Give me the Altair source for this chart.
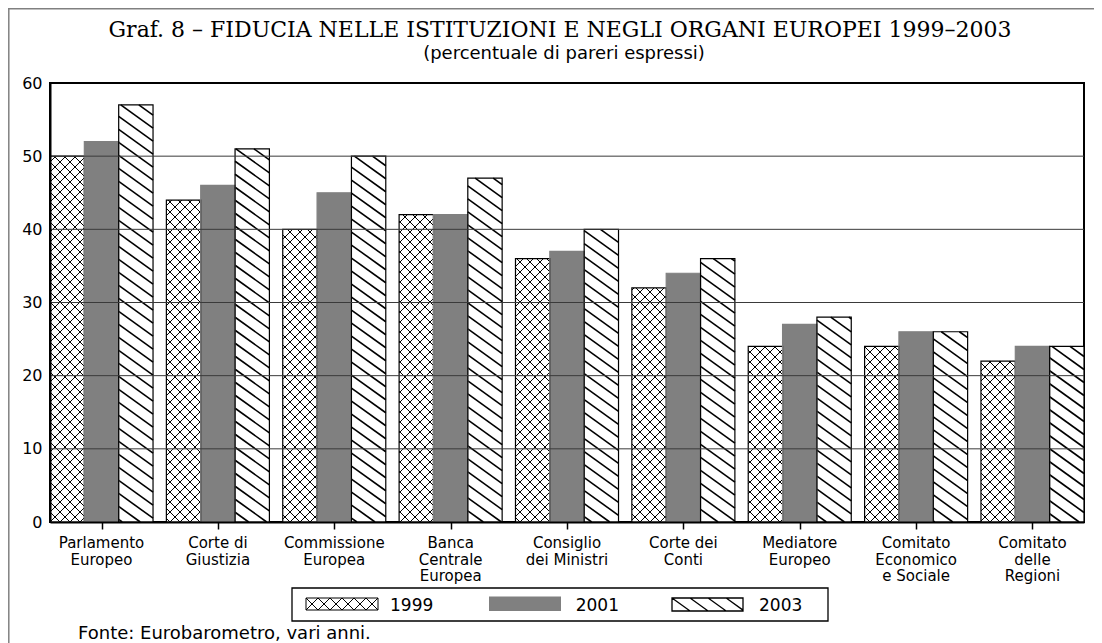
import math
import altair as alt
import pandas as pd

# ---------------- data ----------------
categories = [
    "Parlamento\nEuropeo",
    "Corte di\nGiustizia",
    "Commissione\nEuropea",
    "Banca\nCentrale\nEuropea",
    "Consiglio\ndei Ministri",
    "Corte dei\nConti",
    "Mediatore\nEuropeo",
    "Comitato\nEconomico\ne Sociale",
    "Comitato\ndelle\nRegioni",
]
years = ["1999", "2001", "2003"]
v1999 = [50, 44, 40, 42, 36, 32, 24, 24, 22]
v2001 = [52, 46, 45, 42, 37, 34, 27, 26, 24]
v2003 = [57, 51, 50, 47, 40, 36, 28, 26, 24]
y_ticks = [0, 10, 20, 30, 40, 50, 60]
grid_values = [10, 20, 30, 40, 50]
title_text = "Graf. 8 \u2013 FIDUCIA NELLE ISTITUZIONI E NEGLI ORGANI EUROPEI 1999\u20132003"
subtitle_text = "(percentuale di pareri espressi)"
source_text = "Fonte: Eurobarometro, vari anni."

# ---------------- geometry ----------------
W, H = 1034, 439
YMAX = 60
HALF = 0.4427
XMIN, XMAX = -HALF, len(categories) - 1 + HALF
KX = W / (XMAX - XMIN)
KY = H / YMAX
BW = 2 * HALF / 3
FONT = "DejaVu Sans"
SERIF = "DejaVu Serif"
GRAY = "#808080"


def clip_segments(x0, x1, y0, y1, a, step, phase=0.0):
    """Lines y = a*x + c (c = phase + k*step) clipped to the rectangle."""
    cs = [py - a * px for px in (x0, x1) for py in (y0, y1)]
    kmin = math.floor((min(cs) - phase) / step) - 1
    kmax = math.ceil((max(cs) - phase) / step) + 1
    segs = []
    for k in range(kmin, kmax + 1):
        c = phase + k * step
        xa = (y0 - c) / a
        xb = (y1 - c) / a
        lo = max(x0, min(xa, xb))
        hi = min(x1, max(xa, xb))
        if hi - lo > 0.4:
            segs.append((lo, a * lo + c, hi, a * hi + c))
    return segs


values_by_year = {"1999": v1999, "2001": v2001, "2003": v2003}
fill_by_year = {"1999": "white", "2001": GRAY, "2003": "white"}
stroke_by_year = {"1999": "black", "2001": GRAY, "2003": "black"}

bar_rows, hatch_rows = [], []
for i, cat in enumerate(categories):
    for j, yr in enumerate(years):
        bx0 = i - HALF + j * BW
        bx1 = bx0 + BW
        val = values_by_year[yr][i]
        bar_rows.append(dict(cat=cat, year=yr, value=val, bx0=bx0, bx1=bx1,
                             fill=fill_by_year[yr], stroke=stroke_by_year[yr]))
        px0, px1 = (bx0 - XMIN) * KX, (bx1 - XMIN) * KX
        py1 = val * KY
        specs = []
        if yr == "1999":
            specs = [(1.0, 10.0, 1.0), (-1.0, 10.0, 1.0)]
        elif yr == "2003":
            specs = [(-0.72, 13.0, 1.6)]
        for a, step, sw in specs:
            for (sx0, sy0, sx1, sy1) in clip_segments(px0, px1, 0.0, py1, a, step):
                hatch_rows.append(dict(hx0=XMIN + sx0 / KX, hy0=sy0 / KY,
                                       hx1=XMIN + sx1 / KX, hy1=sy1 / KY, w=sw))

bars = pd.DataFrame(bar_rows)
hatch = pd.DataFrame(hatch_rows)
labels = pd.DataFrame({"i": list(range(len(categories))), "label": categories})
grid = pd.DataFrame({"g": grid_values})
one = pd.DataFrame({"k": [0]})

xscale = alt.Scale(domain=[XMIN, XMAX], nice=False, zero=False)
yscale = alt.Scale(domain=[0, YMAX], nice=False)
xaxis = alt.Axis(values=list(range(len(categories))), labels=False, ticks=True,
                 tickSize=7, tickColor="black", tickWidth=1.5, domainColor="black",
                 domainWidth=2, grid=False, title=None, zindex=2)
yaxis = alt.Axis(values=y_ticks, ticks=False, labelPadding=8, labelFont=FONT,
                 labelFontSize=16, labelColor="black", domainColor="black",
                 domainWidth=2, grid=False, title=None, zindex=2)


def X(f):
    return alt.X(f, type="quantitative", scale=xscale, axis=xaxis)


def Y(f):
    return alt.Y(f, type="quantitative", scale=yscale, axis=yaxis)


bar_fill = alt.Chart(bars).mark_rect(strokeWidth=0).encode(
    x=X("bx0"), x2="bx1", y=Y("value"), y2=alt.datum(0),
    fill=alt.Fill("fill:N", scale=None),
)

hatch_layer = alt.Chart(hatch).mark_rule(color="black").encode(
    x=X("hx0"), x2="hx1", y=Y("hy0"), y2="hy1",
    strokeWidth=alt.StrokeWidth("w:Q", scale=None),
)

bar_outline = alt.Chart(bars).mark_rect(fillOpacity=0, strokeWidth=1.2).encode(
    x=X("bx0"), x2="bx1", y=Y("value"), y2=alt.datum(0),
    stroke=alt.Stroke("stroke:N", scale=None),
)

grid_layer = alt.Chart(grid).mark_rule(color="#3a3a3a", strokeWidth=1).encode(
    y=Y("g")
)

xlabels = alt.Chart(labels).mark_text(
    font=FONT, fontSize=15, lineBreak="\n", lineHeight=16.5, baseline="top",
    align="center", color="black"
).encode(x=X("i"), y=alt.value(H + 14), text="label:N")


def text_at(txt, x, y, size, font=FONT, align="center"):
    return alt.Chart(one).mark_text(
        font=font, fontSize=size, align=align, baseline="alphabetic", color="black"
    ).encode(x=alt.value(x), y=alt.value(y), text=alt.value(txt))


title = text_at(title_text, 510, -46, 22, font=SERIF)
subtitle = text_at(subtitle_text, 514, -24, 18)
source = text_at(source_text, 28, 556, 18, align="left")

# ----- frame of the whole picture (top and left edges) -----
frame_top = alt.Chart(one).mark_rule(color=GRAY, strokeWidth=1.5).encode(
    x=alt.value(-42), x2=alt.value(W + 10), y=alt.value(-74.2)
)
frame_left = alt.Chart(one).mark_rule(color=GRAY, strokeWidth=1.5).encode(
    x=alt.value(-41.2), y=alt.value(-75), y2=alt.value(H + 130)
)

# ----- legend -----
legend_box = alt.Chart(one).mark_rect(fill="white", stroke="black", strokeWidth=1.3).encode(
    x=alt.value(242), x2=alt.value(778), y=alt.value(505), y2=alt.value(538)
)


def path_from(segs):
    return " ".join(f"M{a:.2f},{b:.2f}L{c:.2f},{d:.2f}" for a, b, c, d in segs)


cross = (clip_segments(-36, 36, -6, 6, 1.0, 12.0, phase=30.0)
         + clip_segments(-36, 36, -6, 6, -1.0, 12.0, phase=-30.0))
rect1 = "M-36,-6L36,-6L36,6L-36,6Z"
sw3 = clip_segments(-35.5, 35.5, -6.5, 6.5, 0.72, 13.0, phase=-6.5 - 0.72 * -35.5)
rect3 = "M-35.5,-6.5L35.5,-6.5L35.5,6.5L-35.5,6.5Z"

leg1 = alt.Chart(one).mark_point(
    shape=rect1 + " " + path_from(cross), size=4, filled=False, stroke="black",
    strokeWidth=1, opacity=1
).encode(x=alt.value(292), y=alt.value(521))
leg2 = alt.Chart(one).mark_rect(fill=GRAY).encode(
    x=alt.value(439), x2=alt.value(511), y=alt.value(513.5), y2=alt.value(528)
)
leg3 = alt.Chart(one).mark_point(
    shape=rect3 + " " + path_from(sw3), size=4, filled=False, stroke="black",
    strokeWidth=1.3, opacity=1
).encode(x=alt.value(657.5), y=alt.value(521.5))

lt1 = text_at("1999", 340, 527.5, 17, align="left")
lt2 = text_at("2001", 525.7, 527.5, 17, align="left")
lt3 = text_at("2003", 709, 527.5, 17, align="left")

chart = alt.layer(
    bar_fill, hatch_layer, bar_outline, grid_layer, xlabels,
    title, subtitle, source, frame_top, frame_left,
    legend_box, leg1, leg2, leg3, lt1, lt2, lt3,
).properties(
    width=W, height=H,
    padding={"left": 42, "top": 75, "right": 10, "bottom": 126},
    autosize=alt.AutoSizeParams(type="none"),
    background="white",
).configure_view(stroke="black", strokeWidth=2)

chart.save("out.html", embed_options={"renderer": "svg", "actions": False})
